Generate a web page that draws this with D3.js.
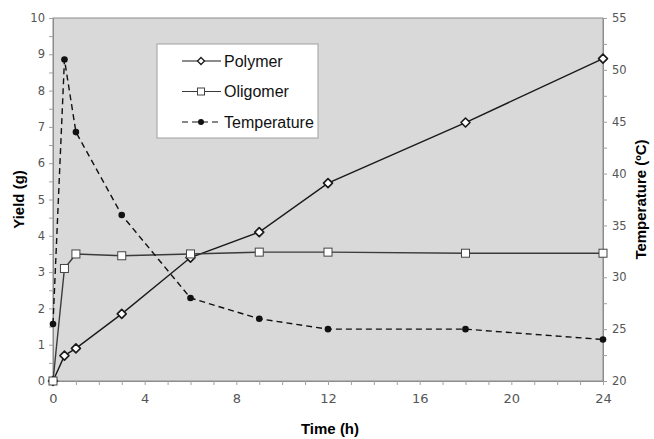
<!DOCTYPE html>
<html>
<head>
<meta charset="utf-8">
<script src="https://cdn.jsdelivr.net/npm/d3@7"></script>
<style>
  body { margin: 0; background: #fff; }
  svg { display: block; }
</style>
</head>
<body>
<div id="chart"></div>
<script>
// data
const times = [0, 0.5, 1, 3, 6, 9, 12, 18, 24];
const polymer = [0, 0.7, 0.9, 1.85, 3.4, 4.1, 5.45, 7.12, 8.88];
const oligomer = [0, 3.1, 3.5, 3.45, 3.5, 3.55, 3.55, 3.52, 3.52];
const temperature = [25.5, 51, 44, 36, 28, 26, 25, 25, 24];
const xTicks = [0, 4, 8, 12, 16, 20, 24];
const legendNames = ["Polymer", "Oligomer", "Temperature"];

const W = 654, H = 439;
const margin = { left: 53, right: 51, top: 18, bottom: 58 };
const pw = W - margin.left - margin.right;
const ph = H - margin.top - margin.bottom;

const svg = d3.select("#chart").append("svg")
  .attr("width", W).attr("height", H);

const x = d3.scaleLinear().domain([0, 24]).range([margin.left, margin.left + pw]);
const y = d3.scaleLinear().domain([0, 10]).range([margin.top + ph, margin.top]);
const y2 = d3.scaleLinear().domain([20, 55]).range([margin.top + ph, margin.top]);

// fond du graphique
svg.append("rect")
  .attr("x", margin.left).attr("y", margin.top)
  .attr("width", pw).attr("height", ph)
  .attr("fill", "#d9d9d9").attr("stroke", "#8c8c8c").attr("stroke-width", 1);

const tickFont = "DejaVu Sans, Verdana, sans-serif";

// axes
const xAxis = svg.append("g")
  .attr("transform", `translate(0,${margin.top + ph})`)
  .call(d3.axisBottom(x).tickValues(d3.range(0, 25, 1)).tickSize(4)
    .tickFormat(d => xTicks.includes(d) ? d : ""));
const yAxis = svg.append("g")
  .attr("transform", `translate(${margin.left},0)`)
  .call(d3.axisLeft(y).tickValues(d3.range(0, 10.01, 0.5)).tickSize(4)
    .tickFormat(d => Number.isInteger(d) ? d : ""));
const yAxis2 = svg.append("g")
  .attr("transform", `translate(${margin.left + pw},0)`)
  .call(d3.axisRight(y2).tickValues(d3.range(20, 55.01, 2.5)).tickSize(4)
    .tickFormat(d => d % 5 === 0 ? d : ""));

[xAxis, yAxis, yAxis2].forEach(a => {
  a.select(".domain").attr("stroke", "#8c8c8c");
  a.selectAll(".tick line").attr("stroke", "#a0a0a0");
  a.selectAll(".tick text")
    .attr("fill", "#555").style("font-family", tickFont).style("font-size", "11.5px");
});
xAxis.selectAll(".tick text").attr("dy", "1.15em").style("font-size", "13px");
yAxis.selectAll(".tick text").attr("x", -8);
yAxis2.selectAll(".tick text").attr("x", 9);

// titres
const titleFont = "Liberation Sans, Arial, sans-serif";
svg.append("text")
  .attr("x", margin.left + pw / 2 + 2).attr("y", 434)
  .attr("text-anchor", "middle")
  .style("font-family", titleFont).style("font-weight", "bold").style("font-size", "15px")
  .text("Time (h)");
svg.append("text")
  .attr("transform", `translate(24,${margin.top + ph / 2}) rotate(-90)`)
  .attr("text-anchor", "middle")
  .style("font-family", titleFont).style("font-weight", "bold").style("font-size", "15px")
  .text("Yield (g)");
svg.append("text")
  .attr("transform", `translate(646,${margin.top + ph / 2}) rotate(-90)`)
  .attr("text-anchor", "middle")
  .style("font-family", titleFont).style("font-weight", "bold").style("font-size", "15px")
  .text("Temperature (ºC)");

// séries
const series = [
  { name: "Polymer", vals: polymer, ys: y, dash: null, color: "#1a1a1a", marker: "diamond" },
  { name: "Oligomer", vals: oligomer, ys: y, dash: null, color: "#3a3a3a", marker: "square" },
  { name: "Temperature", vals: temperature, ys: y2, dash: "6,4", color: "#111", marker: "dot" }
];

function drawMarker(g, kind, cx, cy) {
  if (kind === "diamond") {
    g.append("path")
      .attr("d", `M${cx},${cy - 4.5}L${cx + 4.5},${cy}L${cx},${cy + 4.5}L${cx - 4.5},${cy}Z`)
      .attr("fill", "#fff").attr("stroke", "#1a1a1a").attr("stroke-width", 1.6)
      .attr("stroke-linejoin", "round");
  } else if (kind === "square") {
    g.append("rect")
      .attr("x", cx - 4).attr("y", cy - 4).attr("width", 8).attr("height", 8)
      .attr("fill", "#fff").attr("stroke", "#444").attr("stroke-width", 1);
  } else {
    g.append("circle").attr("cx", cx).attr("cy", cy).attr("r", 3.3).attr("fill", "#111");
  }
}

const plotG = svg.append("g");
series.forEach(s => {
  const line = d3.line().x((d, i) => x(times[i])).y(d => s.ys(d));
  plotG.append("path")
    .datum(s.vals)
    .attr("d", line)
    .attr("fill", "none")
    .attr("stroke", s.color)
    .attr("stroke-width", 1.4)
    .attr("stroke-dasharray", s.dash);
});
series.forEach(s => {
  const mg = plotG.append("g");
  s.vals.forEach((v, i) => drawMarker(mg, s.marker, x(times[i]), s.ys(v)));
});

// légende
const lg = svg.append("g").attr("transform", "translate(157,44)");
lg.append("rect").attr("width", 161).attr("height", 94)
  .attr("fill", "#fff").attr("stroke", "#a0a0a0");
series.forEach((s, i) => {
  const ry = 17 + i * 30.5;
  lg.append("line").attr("x1", 25).attr("x2", 64).attr("y1", ry).attr("y2", ry)
    .attr("stroke", s.color).attr("stroke-width", 1.2).attr("stroke-dasharray", s.dash);
  const m = lg.append("g");
  if (s.marker === "diamond") {
    m.append("path").attr("d", `M44,${ry - 3.5}L47.5,${ry}L44,${ry + 3.5}L40.5,${ry}Z`)
      .attr("fill", "#fff").attr("stroke", "#1a1a1a").attr("stroke-width", 1.3);
  } else if (s.marker === "square") {
    m.append("rect").attr("x", 40.5).attr("y", ry - 3.5).attr("width", 7).attr("height", 7)
      .attr("fill", "#fff").attr("stroke", "#444");
  } else {
    m.append("circle").attr("cx", 44).attr("cy", ry).attr("r", 3).attr("fill", "#111");
  }
  lg.append("text").attr("x", 67).attr("y", ry + 5.5)
    .style("font-family", titleFont).style("font-size", "16px").attr("fill", "#111")
    .text(legendNames[i]);
});
</script>
</body>
</html>
